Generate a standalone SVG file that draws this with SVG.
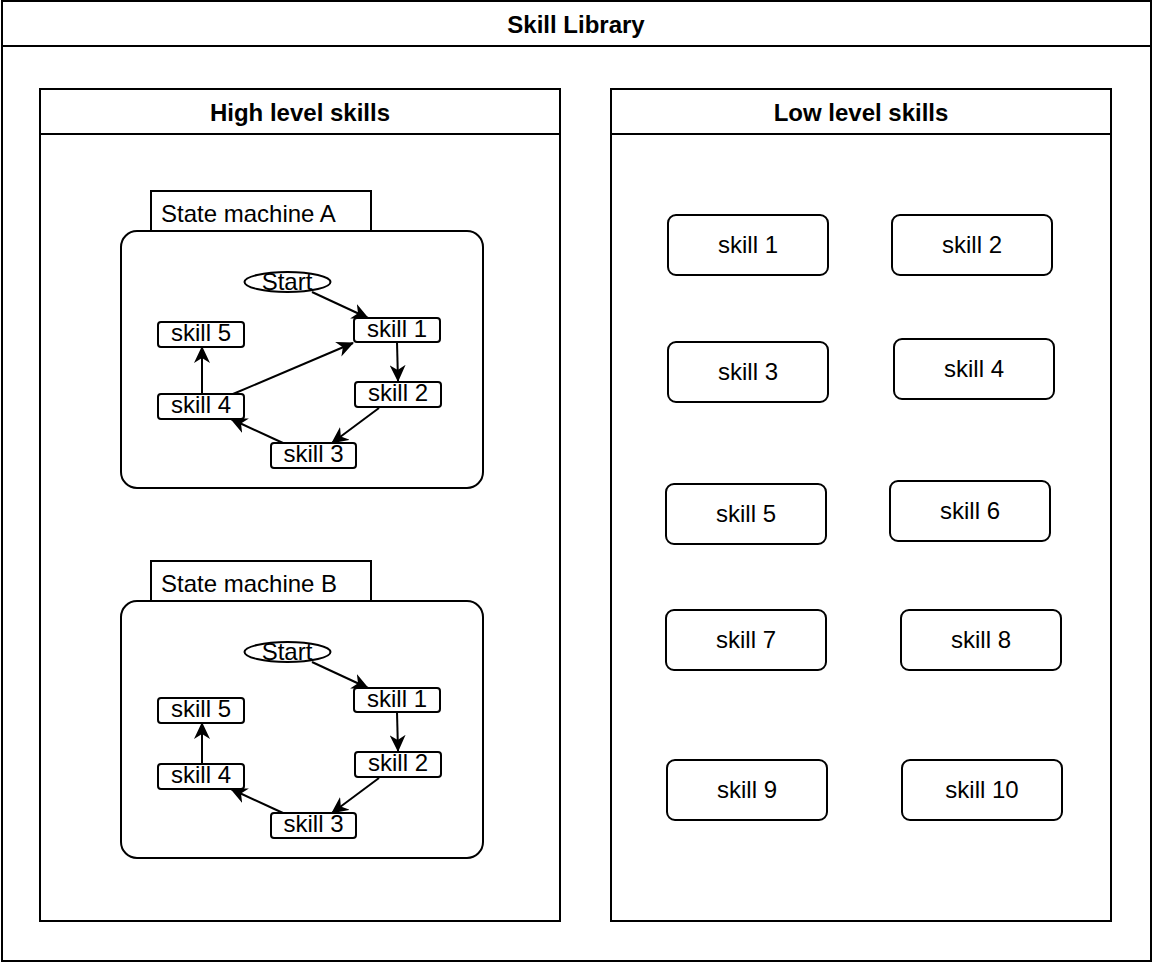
<svg xmlns="http://www.w3.org/2000/svg" width="1152" height="962" viewBox="0 0 1152 962">
<style>
  .frame { fill: #ffffff; stroke: #000000; stroke-width: 2; }
  .hdr { stroke: #000000; stroke-width: 2; fill: none; }
  .title { font-family: "Liberation Sans", Arial, sans-serif; font-size: 24px; font-weight: bold; fill: #000000; text-anchor: middle; }
  .lbl { font-family: "Liberation Sans", Arial, sans-serif; font-size: 24px; fill: #000000; text-anchor: middle; }
  .lbl-l { font-family: "Liberation Sans", Arial, sans-serif; font-size: 24px; fill: #000000; text-anchor: start; }
  .box { fill: #ffffff; stroke: #000000; stroke-width: 2; }
  .sbox { fill: #ffffff; stroke: #000000; stroke-width: 2; }
  .edge { stroke: #000000; stroke-width: 2; fill: none; marker-end: url(#arrow); }
</style>
<defs>
  <marker id="arrow" viewBox="0 0 17 16" refX="16" refY="8" markerWidth="17" markerHeight="16" markerUnits="userSpaceOnUse" orient="auto">
    <path d="M0,0 L17,8 L0,16 L5,8 Z" fill="#000000" stroke="none"/>
  </marker>
</defs>
<rect x="0" y="0" width="1152" height="962" fill="#ffffff"/>

<g id="skill-library">
  <rect class="frame" x="2" y="1" width="1149" height="960"/>
  <line class="hdr" x1="2" y1="46" x2="1151" y2="46"/>
  <text class="title" x="576" y="32.5">Skill Library</text>
</g>

<g id="high-level">
  <rect class="frame" x="40" y="89" width="520" height="832"/>
  <line class="hdr" x1="40" y1="134" x2="560" y2="134"/>
  <text class="title" x="300" y="120.5">High level skills</text>
</g>

<g id="low-level">
  <rect class="frame" x="611" y="89" width="500" height="832"/>
  <line class="hdr" x1="611" y1="134" x2="1111" y2="134"/>
  <text class="title" x="861" y="120.5">Low level skills</text>
</g>

<!-- State machine A -->
<g id="sm-a">
  <rect class="box" x="151" y="191" width="220" height="40"/>
  <text class="lbl-l" x="161" y="221.5">State machine A</text>
  <rect class="box" x="121" y="231" width="362" height="257" rx="16" ry="16"/>
</g>
<g id="sm-a-start">
  <ellipse class="sbox" cx="287.5" cy="282" rx="43" ry="10"/>
  <text class="lbl" x="287" y="289.5">Start</text>
</g>
<g id="sm-a-skill1">
  <rect class="sbox" x="354" y="318" width="86" height="24" rx="3"/>
  <text class="lbl" x="397" y="337">skill 1</text>
</g>
<g id="sm-a-skill2">
  <rect class="sbox" x="355" y="382" width="86" height="25" rx="3"/>
  <text class="lbl" x="398" y="401">skill 2</text>
</g>
<g id="sm-a-skill3">
  <rect class="sbox" x="271" y="443" width="85" height="25" rx="3"/>
  <text class="lbl" x="313.5" y="462">skill 3</text>
</g>
<g id="sm-a-skill4">
  <rect class="sbox" x="158" y="394" width="86" height="25" rx="3"/>
  <text class="lbl" x="201" y="413">skill 4</text>
</g>
<g id="sm-a-skill5">
  <rect class="sbox" x="158" y="322" width="86" height="25" rx="3"/>
  <text class="lbl" x="201" y="341">skill 5</text>
</g>

<!-- State machine B -->
<g id="sm-b">
  <rect class="box" x="151" y="561" width="220" height="40"/>
  <text class="lbl-l" x="161" y="591.5">State machine B</text>
  <rect class="box" x="121" y="601" width="362" height="257" rx="16" ry="16"/>
</g>
<g id="sm-b-start">
  <ellipse class="sbox" cx="287.5" cy="652" rx="43" ry="10"/>
  <text class="lbl" x="287" y="659.5">Start</text>
</g>
<g id="sm-b-skill1">
  <rect class="sbox" x="354" y="688" width="86" height="24" rx="3"/>
  <text class="lbl" x="397" y="707">skill 1</text>
</g>
<g id="sm-b-skill2">
  <rect class="sbox" x="355" y="752" width="86" height="25" rx="3"/>
  <text class="lbl" x="398" y="771">skill 2</text>
</g>
<g id="sm-b-skill3">
  <rect class="sbox" x="271" y="813" width="85" height="25" rx="3"/>
  <text class="lbl" x="313.5" y="832">skill 3</text>
</g>
<g id="sm-b-skill4">
  <rect class="sbox" x="158" y="764" width="86" height="25" rx="3"/>
  <text class="lbl" x="201" y="783">skill 4</text>
</g>
<g id="sm-b-skill5">
  <rect class="sbox" x="158" y="698" width="86" height="25" rx="3"/>
  <text class="lbl" x="201" y="717">skill 5</text>
</g>

<!-- Low level skills -->
<g id="ll-skill1"><rect class="box" x="668" y="215" width="160" height="60" rx="8"/><text class="lbl" x="748" y="252.5">skill 1</text></g>
<g id="ll-skill2"><rect class="box" x="892" y="215" width="160" height="60" rx="8"/><text class="lbl" x="972" y="252.5">skill 2</text></g>
<g id="ll-skill3"><rect class="box" x="668" y="342" width="160" height="60" rx="8"/><text class="lbl" x="748" y="379.5">skill 3</text></g>
<g id="ll-skill4"><rect class="box" x="894" y="339" width="160" height="60" rx="8"/><text class="lbl" x="974" y="376.5">skill 4</text></g>
<g id="ll-skill5"><rect class="box" x="666" y="484" width="160" height="60" rx="8"/><text class="lbl" x="746" y="521.5">skill 5</text></g>
<g id="ll-skill6"><rect class="box" x="890" y="481" width="160" height="60" rx="8"/><text class="lbl" x="970" y="518.5">skill 6</text></g>
<g id="ll-skill7"><rect class="box" x="666" y="610" width="160" height="60" rx="8"/><text class="lbl" x="746" y="647.5">skill 7</text></g>
<g id="ll-skill8"><rect class="box" x="901" y="610" width="160" height="60" rx="8"/><text class="lbl" x="981" y="647.5">skill 8</text></g>
<g id="ll-skill9"><rect class="box" x="667" y="760" width="160" height="60" rx="8"/><text class="lbl" x="747" y="797.5">skill 9</text></g>
<g id="ll-skill10"><rect class="box" x="902" y="760" width="160" height="60" rx="8"/><text class="lbl" x="982" y="797.5">skill 10</text></g>

<g id="connectors">
  <!-- A -->
  <line class="edge" x1="312" y1="292" x2="368" y2="318"/>
  <line class="edge" x1="397" y1="342" x2="398" y2="381"/>
  <line class="edge" x1="379" y1="408" x2="332" y2="443"/>
  <line class="edge" x1="283" y1="443" x2="231" y2="419"/>
  <line class="edge" x1="202" y1="394" x2="202" y2="347"/>
  <line class="edge" x1="233" y1="394" x2="353" y2="343"/>
  <!-- B -->
  <line class="edge" x1="312" y1="662" x2="368" y2="688"/>
  <line class="edge" x1="397" y1="712" x2="398" y2="751"/>
  <line class="edge" x1="379" y1="778" x2="332" y2="813"/>
  <line class="edge" x1="283" y1="813" x2="231" y2="789"/>
  <line class="edge" x1="202" y1="764" x2="202" y2="723"/>
</g>
</svg>
